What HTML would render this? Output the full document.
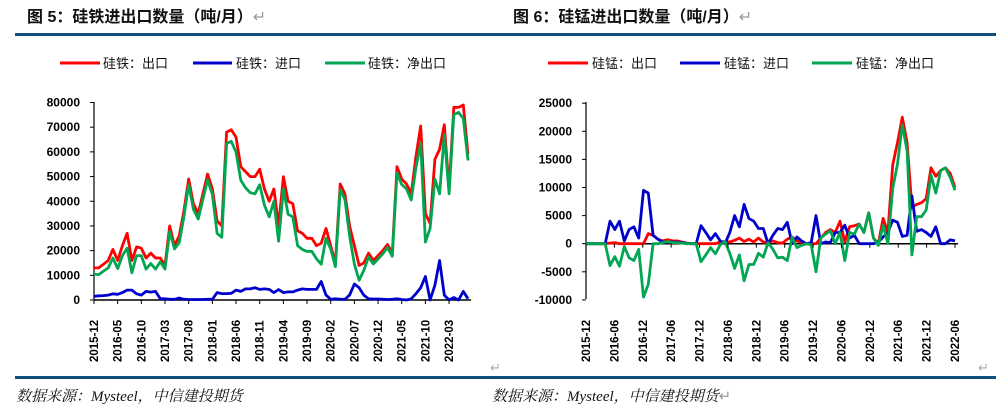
<!DOCTYPE html>
<html><head><meta charset="utf-8"><style>
body{margin:0;background:#fff;width:996px;height:407px;overflow:hidden;font-family:"Liberation Sans","Noto Sans CJK SC",sans-serif}
.t{position:absolute;font-weight:bold;font-size:16px;color:#111;top:3px}
.f{position:absolute;top:385px;font-family:"Liberation Serif","Noto Serif CJK SC",serif;font-style:italic;font-size:15px;color:#111}
</style></head><body>
<div class="t" style="left:27px">图 5：硅铁进出口数量（吨/月）<span style="color:#999;font-weight:normal">↵</span></div>
<div class="t" style="left:513px">图 6：硅锰进出口数量（吨/月）<span style="color:#999;font-weight:normal">↵</span></div>
<div class="f" style="left:16px">数据来源：Mysteel，中信建投期货</div>
<div class="f" style="left:492px">数据来源：Mysteel，中信建投期货<span style="color:#999;font-style:normal">↵</span></div>
<svg id="s" width="996" height="407" style="position:absolute;left:0;top:0">
<rect x="15" y="33" width="981" height="3" fill="#0f4f7c"/>
<rect x="15" y="376" width="981" height="3" fill="#0f4f7c"/>
<text x="490" y="372" font-size="13" fill="#aaa">↵</text>
<text x="978" y="372" font-size="13" fill="#aaa">↵</text>
<g font-size="13" fill="#111" font-family="Liberation Sans,Noto Sans CJK SC,sans-serif">
<line x1="60" y1="63" x2="100" y2="63" stroke="#f00" stroke-width="3"/><text x="103" y="68">硅铁：出口</text>
<line x1="193" y1="63" x2="232" y2="63" stroke="#00c" stroke-width="3"/><text x="236" y="68">硅铁：进口</text>
<line x1="325" y1="63" x2="365" y2="63" stroke="#00a651" stroke-width="3"/><text x="368" y="68">硅铁：净出口</text>
<line x1="548" y1="63" x2="588" y2="63" stroke="#f00" stroke-width="3"/><text x="592" y="68">硅锰：出口</text>
<line x1="680" y1="63" x2="720" y2="63" stroke="#00c" stroke-width="3"/><text x="724" y="68">硅锰：进口</text>
<line x1="812" y1="63" x2="852" y2="63" stroke="#00a651" stroke-width="3"/><text x="856" y="68">硅锰：净出口</text>
</g>
</svg>
<script>
var s=document.getElementById('s'),NS='http://www.w3.org/2000/svg';
function el(t,a,txt){var e=document.createElementNS(NS,t);for(var k in a)e.setAttribute(k,a[k]);if(txt!==undefined)e.textContent=txt;s.appendChild(e);return e;}
function path(vals,x0,x1,yf,col){var d='',n=vals.length;for(var i=0;i<n;i++){var x=x0+(x1-x0)*i/(n-1);d+=(i?'L':'M')+x.toFixed(1)+' '+yf(vals[i]).toFixed(1);}el('path',{d:d,fill:'none',stroke:col,'stroke-width':2.8,'stroke-linejoin':'round'});}
// left chart
var L0=94,L1=468,ly=function(v){return 300-v*197.5/80;};
el('line',{x1:L0,y1:102,x2:L0,y2:300,stroke:'#000','stroke-width':1.2});
el('line',{x1:L0,y1:300,x2:471,y2:300,stroke:'#000','stroke-width':1.5});
for(var v=0;v<=80;v+=10){var y=ly(v);el('line',{x1:L0-4,y1:y,x2:L0,y2:y,stroke:'#000'});el('text',{x:80,y:y+4,'text-anchor':'end','font-size':12,'font-weight':'bold'},v?v*1000:'0');}
var red=[13,13,14.5,16,20.5,16,22,27,16,21.5,21,17,19,17,17,14,30,22,26,36,49,39,35,43,51,45,32,30,68,69,66,54,52,50,50,53,45,40,45,30,50,40,39,28,27,25,25,22,23,29,22,15,47,43,30,22,14,15,19,16,18,20,22.5,19,54,49,47,43,58,70.5,35,31,57,61,71,45,78,78,79,59];
var blue=[1.5,1.7,1.8,2,2.5,2.3,3,4,4,2.5,2,3.5,3.2,3.5,0.5,0.5,0.3,0.3,0.8,0.3,0.2,0.2,0.2,0.2,0.3,0.3,3,2.6,2.6,2.7,4,3.5,4.5,4.5,5,4.3,4.5,4.3,3,4.2,3,3.3,3.3,4,4.5,4.3,4.3,4.3,7.5,2,0.3,0.5,0.3,0.3,2,6.5,5,2,0.5,0.4,0.4,0.3,0.2,0.3,0.5,0.2,0,0.5,2.5,5,9.5,0,6,16,2,0,1,0,3.5,0.5];
blue=blue.slice(0,red.length);
var green=red.map(function(r,i){return r-blue[i]-(r>25?2:1);});
path(blue,L0,L1,ly,'#0000cc');path(red,L0,L1,ly,'#ff0000');path(green,L0,L1,ly,'#00a651');
var n=red.length,st=(L1-L0)/(n-1);
var lab=['2015-12','2016-05','2016-10','2017-03','2017-08','2018-01','2018-06','2018-11','2019-04','2019-09','2020-02','2020-07','2020-12','2021-05','2021-10','2022-03'];
for(var i=0;i<lab.length;i++){var x=L0+st*5*i;el('line',{x1:x,y1:300,x2:x,y2:304,stroke:'#000'});el('text',{transform:'translate('+(x+4)+',362) rotate(-90)','font-size':11.5,'font-weight':'bold'},lab[i]);}
// right chart
var R0=586,R1=955,ry=function(v){return 243.7-v*28.1/5;};
el('line',{x1:R0,y1:102,x2:R0,y2:299,stroke:'#000','stroke-width':1.2});
el('line',{x1:R0,y1:243.7,x2:958,y2:243.7,stroke:'#000','stroke-width':1.5});
for(var v=-10;v<=25;v+=5){var y=ry(v);el('line',{x1:R0-4,y1:y,x2:R0,y2:y,stroke:'#000'});el('text',{x:572,y:y+4,'text-anchor':'end','font-size':12,'font-weight':'bold'},v?v*1000:'0');}
var r2=[0,0,0,0,0,0.1,0.2,0,0,0,0,0,0,1.8,1.5,0.8,0.5,0.7,0.5,0.5,0.3,0.1,0,0,0,0,0,0,0.3,0.4,0.3,0.6,1,0.4,0.8,0.3,1,0.3,0.2,0.5,0.2,0.1,0.8,1.2,0.5,0.2,0,0,0,1,2,2.5,2,4,0.3,3,3.2,3.5,2,5.5,1,0,4.5,2,14,18,22.5,18,6.5,7,7.3,8,13.5,12,13,13.5,12.5,10];
var b2=[0,0,0,0,0,4,2.5,4,0.5,2.5,3,1,9.5,9,1.5,0.8,0.3,0.3,0.3,0.3,0.2,0.1,0,0,3.2,2,0.7,1.8,0.5,0,2,5,3,7,4.5,4,2.7,2.7,0,1.5,2.7,2.5,3.8,0,1.2,0.5,0,0.2,5,0,0.3,0.2,2,2,3.3,1,1.5,0,0,0,0,0.3,1.2,2,4.2,3.8,1.3,1.5,8.5,2.2,2.5,2,1.3,3,0,0,0.7];
while(b2.length<r2.length)b2.push(0.5);
var g2=r2.map(function(r,i){return r-b2[i];});
path(r2,R0,R1,ry,'#ff0000');path(b2,R0,R1,ry,'#0000cc');path(g2,R0,R1,ry,'#00a651');
var n2=r2.length,st2=(R1-R0)/(n2-1);
var lab2=['2015-12','2016-06','2016-12','2017-06','2017-12','2018-06','2018-12','2019-06','2019-12','2020-06','2020-12','2021-06','2021-12','2022-06'];
for(var i=0;i<lab2.length;i++){var x=R0+(R1-R0)*i/13;el('line',{x1:x,y1:243.7,x2:x,y2:247.7,stroke:'#000'});el('text',{transform:'translate('+(x+4)+',362) rotate(-90)','font-size':11.5,'font-weight':'bold'},lab2[i]);}
</script>
</body></html>
